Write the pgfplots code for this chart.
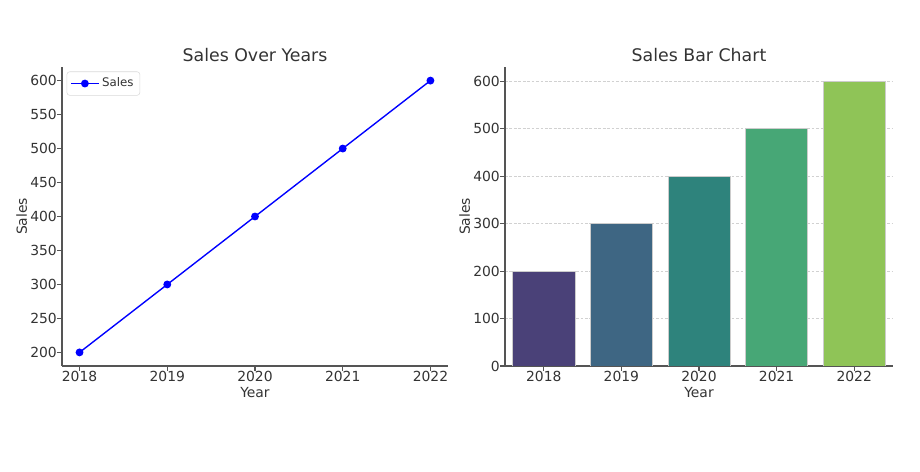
\documentclass[border=0pt]{standalone}
\usepackage{pgfplots}
\pgfplotsset{compat=1.18}
\usepackage{fontspec}
\setmainfont{DejaVu Sans}

\definecolor{txt}{HTML}{333333}
\definecolor{spine}{HTML}{555555}
\definecolor{barA}{HTML}{4A4178}
\definecolor{barB}{HTML}{3E6683}
\definecolor{barC}{HTML}{2E837C}
\definecolor{barD}{HTML}{47A776}
\definecolor{barE}{HTML}{8FC457}

\pgfplotsset{
  mpl/.style={
    scale only axis,
    anchor=south west,
    axis x line*=bottom, axis y line*=left,
    axis line style={-, draw=spine, line width=0.8pt},
    tick align=outside, major tick length=3.5pt,
    tick style={draw=spine, line width=0.8pt},
    ticklabel style={font=\fontsize{10}{12}\selectfont, text=txt},
    xticklabel style={yshift=3.3pt},
    yticklabel style={xshift=3.3pt},
    label style={font=\fontsize{10}{12}\selectfont, text=txt},
    xlabel style={yshift=2.6pt},
    ylabel style={yshift=-4.6pt},
    title style={font=\fontsize{12.5}{14}\selectfont, text=txt, yshift=-6pt},
    /pgf/number format/assume math mode=true,
    /pgf/number format/1000 sep={},
  }
}

\begin{document}
\begin{tikzpicture}[x=1pt,y=1pt]
\path (0,0) rectangle (662.4,339.84);

% left: line chart
\begin{axis}[mpl,
  at={(44.64pt,76.32pt)}, width=277.92pt, height=215.28pt,
  title={Sales Over Years},
  xlabel={Year}, ylabel={Sales},
  xmin=2017.8, xmax=2022.2, ymin=180, ymax=620,
  xtick={2018,2019,2020,2021,2022},
  ytick={200,250,300,350,400,450,500,550,600},
  legend style={at={(0.012,0.985)}, anchor=north west,
    draw=black!15, rounded corners=2pt, font=\fontsize{8.5}{10}\selectfont,
    text=txt, inner sep=2.5pt},
  legend image code/.code={
    \draw[mark repeat=2, mark phase=2]
      plot coordinates {(0cm,0cm) (0.35cm,0cm) (0.7cm,0cm)};},
  legend cell align=left,
]
\addplot[color=blue, line width=1pt, mark=*, mark size=2.3pt]
  coordinates {(2018,200) (2019,300) (2020,400) (2021,500) (2022,600)};
\addlegendentry{Sales}
\end{axis}

% right: bar chart
\begin{axis}[mpl,
  at={(363.6pt,76.32pt)}, width=279.36pt, height=215.28pt,
  title={Sales Bar Chart},
  xlabel={Year}, ylabel={Sales},
  xmin=-0.5, xmax=4.5, ymin=0, ymax=630,
  xtick={0,1,2,3,4}, xticklabels={2018,2019,2020,2021,2022},
  ytick={0,100,200,300,400,500,600},
  ymajorgrids, grid style={dash pattern=on 2pt off 1.2pt, draw=black!18, line width=0.5pt},
  ybar, bar width=0.8, bar shift=0pt,
]
\addplot[fill=barA, draw=black!20, line width=0.4pt] coordinates {(0,200)};
\addplot[fill=barB, draw=black!20, line width=0.4pt] coordinates {(1,300)};
\addplot[fill=barC, draw=black!20, line width=0.4pt] coordinates {(2,400)};
\addplot[fill=barD, draw=black!20, line width=0.4pt] coordinates {(3,500)};
\addplot[fill=barE, draw=black!20, line width=0.4pt] coordinates {(4,600)};
\end{axis}
\end{tikzpicture}
\end{document}
